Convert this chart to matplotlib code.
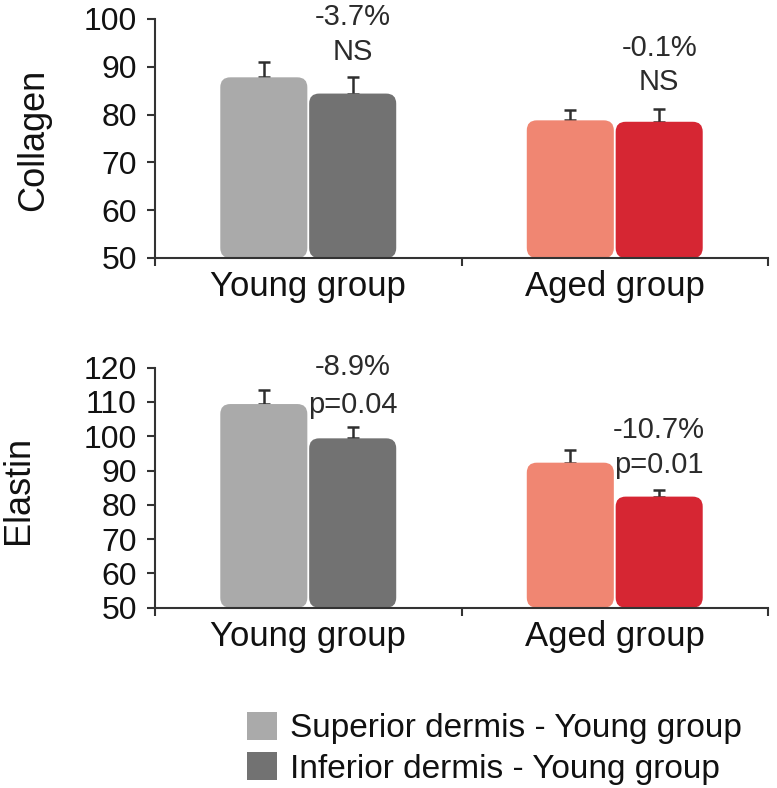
import matplotlib
matplotlib.use("Agg")
import matplotlib.pyplot as plt
from matplotlib.patches import FancyBboxPatch, Patch
import numpy as np

plt.rcParams['font.family'] = ['Liberation Sans', 'DejaVu Sans']

# values
groups = ["Young group", "Aged group"]

collagen_superior = [87.8, 78.8]
collagen_inferior = [84.4, 78.5]
collagen_superior_err = [3.1, 2.1]
collagen_inferior_err = [3.4, 2.7]
collagen_change = ["-3.7%", "-0.1%"]
collagen_sig = ["NS", "NS"]

elastin_superior = [109.4, 92.3]
elastin_inferior = [99.4, 82.4]
elastin_superior_err = [4.1, 3.7]
elastin_inferior_err = [3.2, 1.8]
elastin_change = ["-8.9%", "-10.7%"]
elastin_sig = ["p=0.04", "p=0.01"]

legend_labels = ["Superior dermis - Young group", "Inferior dermis - Young group"]

# colours: superior / inferior per group
superior_colors = ["#aaaaaa", "#f08672"]
inferior_colors = ["#727272", "#d62633"]
axis_color = "#333333"


def rounded(ax, bars, radius_px=10):
    # swap the plain bars for rounded boxes of the same size
    p0 = ax.transData.transform((0, 0))
    p1 = ax.transData.transform((1, 1))
    px_x, px_y = p1[0] - p0[0], p1[1] - p0[1]
    rx = radius_px / px_x
    for b in bars:
        x0, y0 = b.get_xy()
        patch = FancyBboxPatch((x0, y0), b.get_width(), b.get_height(),
                               boxstyle=f"round,pad=0,rounding_size={rx}",
                               mutation_aspect=px_x / px_y,
                               fc=b.get_facecolor(), ec="none", zorder=2)
        b.remove()
        ax.add_patch(patch)


def draw_panel(ax, sup, inf, sup_err, inf_err, yticks, changes, sigs, text_y):
    base = yticks[0]
    ax.set_xlim(0, 2)
    ax.set_ylim(yticks[0], yticks[-1])

    x = np.arange(len(groups)) + 0.5
    w = 0.284
    off = 0.145
    sup = np.array(sup)
    inf = np.array(inf)

    b1 = ax.bar(x - off, sup - base, w, bottom=base, color=superior_colors)
    b2 = ax.bar(x + off, inf - base, w, bottom=base, color=inferior_colors)
    rounded(ax, b1)
    rounded(ax, b2)

    ax.errorbar(x - off, sup, yerr=[np.zeros(len(sup)), sup_err], fmt="none",
                ecolor="#2e2e2e", elinewidth=1.8, capsize=4.5, capthick=1.8, zorder=1)
    ax.errorbar(x + off, inf, yerr=[np.zeros(len(inf)), inf_err], fmt="none",
                ecolor="#2e2e2e", elinewidth=1.8, capsize=4.5, capthick=1.8, zorder=1)

    # change / significance labels over the inferior bar
    tr = ax.get_xaxis_transform()
    for i in range(len(groups)):
        ax.text(x[i] + off, text_y[i][0], changes[i], transform=tr, ha="center",
                va="center", fontsize=21, color="#2b2b2b", clip_on=False)
        ax.text(x[i] + off, text_y[i][1], sigs[i], transform=tr, ha="center",
                va="center", fontsize=21, color="#2b2b2b", clip_on=False)

    ax.set_yticks(yticks)
    ax.set_xticks(x)
    ax.set_xticklabels(groups)
    ax.set_xticks([0, 1, 2], minor=True)
    ax.tick_params(axis="x", which="major", length=0, pad=8.5, labelsize=25,
                   labelcolor="#111111")
    ax.tick_params(axis="x", which="minor", length=6, width=1.5, color=axis_color)
    ax.tick_params(axis="y", length=6, width=1.5, color=axis_color, pad=7,
                   labelsize=23, labelcolor="#111111")
    for s in ["top", "right"]:
        ax.spines[s].set_visible(False)
    for s in ["left", "bottom"]:
        ax.spines[s].set_color(axis_color)
        ax.spines[s].set_linewidth(1.5)


W, H = 777, 788
fig = plt.figure(figsize=(W / 100, H / 100), dpi=100)

ax_top = fig.add_axes([155 / W, 1 - 258 / H, 613 / W, 239 / H])
draw_panel(ax_top, collagen_superior, collagen_inferior, collagen_superior_err,
           collagen_inferior_err, [50, 60, 70, 80, 90, 100], collagen_change,
           collagen_sig, [(1.008, 0.862), (0.879, 0.736)])

ax_bot = fig.add_axes([155 / W, 1 - 607.7 / H, 613 / W, 240 / H])
draw_panel(ax_bot, elastin_superior, elastin_inferior, elastin_superior_err,
           elastin_inferior_err, [50, 60, 70, 80, 90, 100, 110, 120], elastin_change,
           elastin_sig, [(1.004, 0.845), (0.741, 0.595)])

fig.text(43 / W, 1 - 139.5 / H, "Collagen", rotation=90, rotation_mode="anchor",
         ha="center", va="baseline", fontsize=26, color="#111111")
fig.text(28 / W, 1 - 490 / H, "Elastin", rotation=90, rotation_mode="anchor",
         ha="center", va="baseline", fontsize=26, color="#111111")

handles = [Patch(fc=superior_colors[0], label=legend_labels[0]),
           Patch(fc=inferior_colors[0], label=legend_labels[1])]
fig.legend(handles=handles, loc="upper left", bbox_to_anchor=(247 / W, 1 - 712 / H),
           frameon=False, fontsize=24, handlelength=0.9, handleheight=0.9,
           handletextpad=0.4, labelspacing=0.24, borderpad=0, borderaxespad=0,
           labelcolor="#111111")

fig.savefig("out.png", dpi=100)
